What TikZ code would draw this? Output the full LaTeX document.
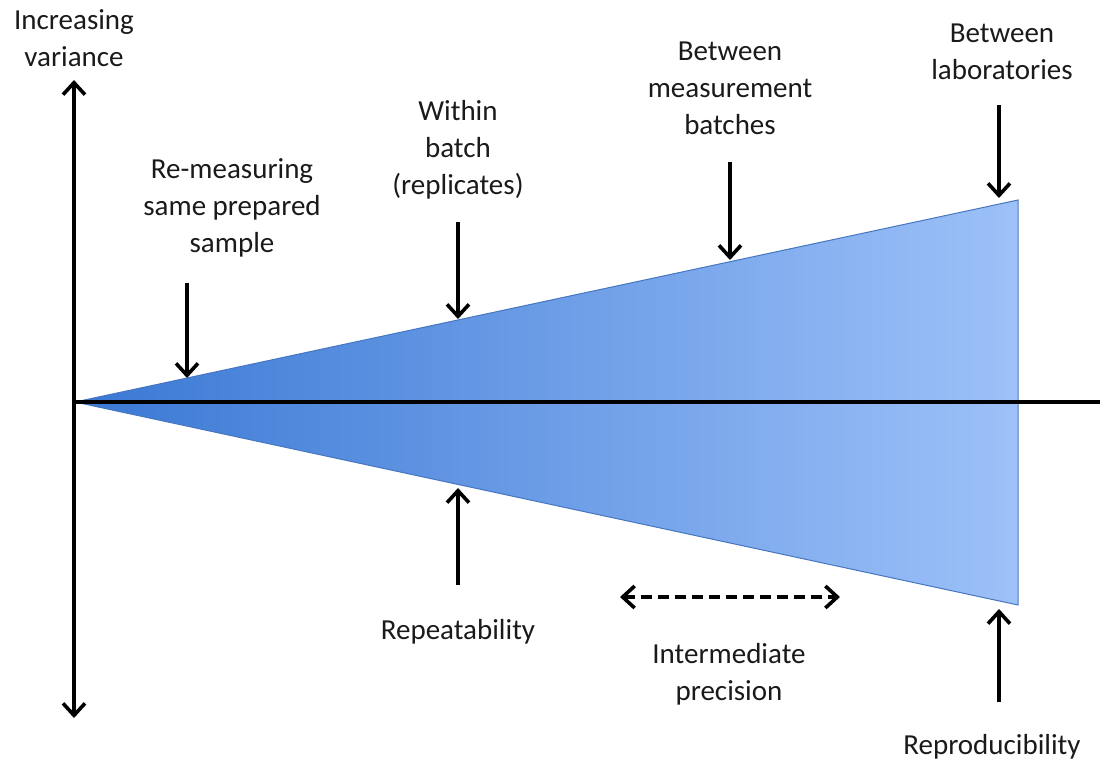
\documentclass[tikz,border=0pt]{standalone}
\usepackage{fontspec}
\setmainfont{Carlito}
\usetikzlibrary{arrows.meta}
\definecolor{txtc}{HTML}{1A1A1A}
\definecolor{blueL}{HTML}{3A78D4}
\definecolor{blueR}{HTML}{9DC1F8}
\definecolor{blueB}{HTML}{4676C0}
\tikzset{
  lbl/.style={align=center, text=txtc, font=\fontsize{29}{37}\selectfont, inner sep=0pt},
  barb/.style={Straight Barb[length=12pt,width=22pt,line width=3.5pt]},
  arr/.style={line width=3.6pt, -{Straight Barb[length=12pt,width=22pt]}},
  dblarr/.style={line width=3.6pt, {Straight Barb[length=12pt,width=22pt]}-{Straight Barb[length=12pt,width=22pt]}},
  dasharr/.style={line width=3.6pt, dash pattern=on 11pt off 6pt, {Straight Barb[length=12pt,width=22pt]}-{Straight Barb[length=12pt,width=22pt]}},
  axisline/.style={line width=3.6pt},
}
\begin{document}
\begin{tikzpicture}[x=1pt,y=-1pt]
\useasboundingbox (0,0) rectangle (1104,764);
% triangle
\coordinate (apex) at (75,402);
\coordinate (tr) at (1018,200);
\coordinate (br) at (1018,605);
\path[left color=blueL, right color=blueR] (apex) -- (tr) -- (br) -- cycle;
\draw[blueB, line width=1pt, line join=miter] (apex) -- (tr) -- (br) -- cycle;
% axes
\coordinate (vtop) at (74,80);
\coordinate (vbot) at (74,718);
\coordinate (hend) at (1100,402);
\draw[axisline] (apex) -- (hend);
\draw[dblarr] (vbot) -- (vtop);
% labels
\node[lbl] (inc) at (74,38) {Increasing\\variance};
\node[lbl] (remeas) at (232,208) {Re-measuring\\same prepared\\sample};
\node[lbl] (within) at (458,150) {Within\\batch\\(replicates)};
\node[lbl] (betmeas) at (730,88) {Between\\measurement\\batches};
\node[lbl] (betlab) at (1002,52) {Between\\laboratories};
\node[lbl] (repeat) at (458,632) {Repeatability};
\node[lbl] (inter) at (729,674) {Intermediate\\precision};
\node[lbl] (repro) at (992,747) {Reproducibility};
% arrows
\coordinate (a1s) at (187,283); \coordinate (a1e) at (187,378);
\coordinate (a2s) at (458,222); \coordinate (a2e) at (458,319);
\coordinate (a3s) at (730,162); \coordinate (a3e) at (730,260);
\coordinate (a4s) at (999,105); \coordinate (a4e) at (999,198);
\coordinate (a5s) at (458,585); \coordinate (a5e) at (458,488);
\coordinate (a6s) at (999,702); \coordinate (a6e) at (999,609);
\coordinate (dl) at (620,597); \coordinate (dr) at (840,597);
\draw[arr] (a1s) -- (a1e);
\draw[arr] (a2s) -- (a2e);
\draw[arr] (a3s) -- (a3e);
\draw[arr] (a4s) -- (a4e);
\draw[arr] (a5s) -- (a5e);
\draw[arr] (a6s) -- (a6e);
\draw[dasharr] (dl) -- (dr);
\end{tikzpicture}
\end{document}
